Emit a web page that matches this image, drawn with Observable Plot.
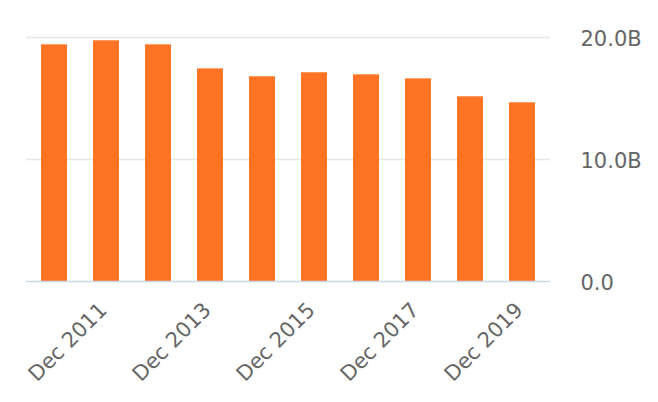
<!DOCTYPE html>
<html>
<head>
<meta charset="utf-8">
<script src="https://cdn.jsdelivr.net/npm/d3@7"></script>
<script src="https://cdn.jsdelivr.net/npm/@observablehq/plot@0.6"></script>
<style>
  html, body { margin: 0; padding: 0; background: #fff; }
  #chart { width: 658px; height: 402px; }
</style>
</head>
<body>
<div id="chart"></div>
<script>
const periods = ["Dec 2010", "Dec 2011", "Dec 2012", "Dec 2013", "Dec 2014", "Dec 2015", "Dec 2016", "Dec 2017", "Dec 2018", "Dec 2019"];
const values = [19.40, 19.73, 19.40, 17.43, 16.78, 17.11, 16.94, 16.61, 15.14, 14.65];
const xTickLabels = ["Dec 2011", "Dec 2013", "Dec 2015", "Dec 2017", "Dec 2019"];
const yTicks = [0, 10, 20];

const data = periods.map((p, i) => ({period: p, value: values[i]}));
const fmtY = d => d === 0 ? "0.0" : d.toFixed(1) + "B";

const chart = Plot.plot({
  width: 658,
  height: 402,
  marginLeft: 26,
  marginRight: 108,
  marginTop: 37,
  marginBottom: 121,
  style: {fontFamily: "DejaVu Sans", fontSize: "21px", color: "#666", background: "#fff"},
  x: {domain: periods, paddingInner: 0.5, paddingOuter: 0.25},
  y: {domain: [0, 20]},
  marks: [
    Plot.ruleY(yTicks.filter(d => d !== 0), {stroke: "#e6e6e6", strokeWidth: 1.5}),
    Plot.barY(data, {x: "period", y: "value", fill: "#ff7324"}),
    Plot.ruleY([0], {stroke: "#ccd6eb", strokeWidth: 1.5}),
    Plot.axisY({anchor: "right", ticks: yTicks, tickFormat: fmtY, tickSize: 0, tickPadding: 30, textAnchor: "start", fill: "#666", label: null, dy: 2}),
    Plot.axisX({ticks: xTickLabels, tickRotate: -45, tickSize: 0, tickPadding: 12, fill: "#666", label: null, dx: -3, dy: 13})
  ]
});
document.getElementById("chart").appendChild(chart);
</script>
</body>
</html>
